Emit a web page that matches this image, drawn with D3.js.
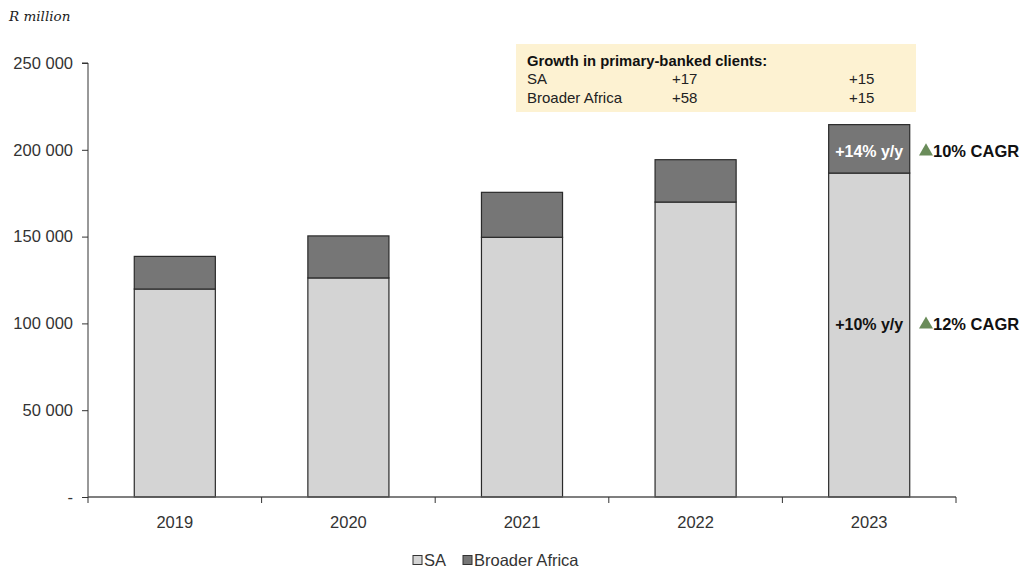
<!DOCTYPE html>
<html><head><meta charset="utf-8">
<script src="https://cdn.jsdelivr.net/npm/d3@7/dist/d3.min.js"></script>
<style>
body{margin:0;background:#fff;}
text{font-family:"Liberation Sans",Arial,Helvetica,sans-serif;}
</style></head>
<body><svg id="c" width="1024" height="568"></svg>
<script>
const years = ["2019","2020","2021","2022","2023"];
const saValues = [119800, 126200, 149600, 169900, 186600];
const africaValues = [18800, 24200, 25900, 24400, 27900];
const yTicks = [0, 50000, 100000, 150000, 200000, 250000];
const seriesNames = ["SA", "Broader Africa"];
const growthRows = [["SA","+17","+15"],["Broader Africa","+58","+15"]];
const barLabels = [{series:"SA", text:"+10% y/y", cagr:"12% CAGR"},{series:"Broader Africa", text:"+14% y/y", cagr:"10% CAGR"}];

const svg = d3.select("#c");
const x0 = 88, x1 = 956, yb = 497, yt = 63;
const x = d3.scaleBand().domain(years).range([x0, x1]).paddingInner(0.533).paddingOuter(0.2665);
const xb = d3.scaleBand().domain(years).range([x0, x1]);
const y = d3.scaleLinear().domain([0, 250000]).range([yb, yt]);
const colors = {"SA":"#d4d4d4","Broader Africa":"#767676"};

// y-axis
const ya = svg.append("g").attr("transform",`translate(${x0},0)`)
  .call(d3.axisLeft(y).tickValues(yTicks).tickSize(6).tickPadding(9)
    .tickFormat(d => d===0 ? "-" : d3.format(",")(d).replace(/,/g," ")));
ya.select(".domain").attr("stroke","#333").attr("d",`M-6,${yt}H0V${yb}`);
ya.selectAll(".tick line").attr("stroke","#333");
ya.selectAll("text").attr("fill","#333").style("font-size","16.5px")
  .style("font-family","'Liberation Sans',Arial,sans-serif");

svg.append("text").attr("x",9).attr("y",21).text("R million")
  .style("font-family","'DejaVu Serif','Liberation Serif',serif").style("font-style","italic")
  .style("font-size","13.5px").attr("fill","#222");

// bars
const data = years.map((yr,i)=>({year:yr, SA:saValues[i], "Broader Africa":africaValues[i]}));
const stacked = d3.stack().keys(seriesNames)(data);
svg.append("g").selectAll("g").data(stacked).join("g")
  .attr("fill", d=>colors[d.key])
  .selectAll("rect").data(d=>d).join("rect")
  .attr("x", d=>x(d.data.year)).attr("width", x.bandwidth())
  .attr("y", d=>y(d[1])).attr("height", d=>y(d[0])-y(d[1]))
  .attr("stroke","#2a2a2a").attr("stroke-width",1.2);

// x-axis
const xa = svg.append("g").attr("transform",`translate(0,${yb})`);
xa.append("line").attr("x1",x0).attr("x2",x1).attr("stroke","#555").attr("stroke-width",1.5);
xa.selectAll("line.t").data([...years.map(d=>xb(d)), x1]).join("line").attr("class","t")
  .attr("x1",d=>d).attr("x2",d=>d).attr("y1",0).attr("y2",6).attr("stroke","#333");
xa.selectAll("text").data(years).join("text")
  .attr("x",d=>xb(d)+xb.bandwidth()/2).attr("y",31).attr("text-anchor","middle")
  .attr("fill","#333").style("font-size","16.5px").text(d=>d);

// labels on last bar
const lx = x(years[years.length-1]);
barLabels.forEach((b,i)=>{
  const seg = stacked.find(s=>s.key===b.series);
  const d = seg[seg.length-1];
  const yy = b.series==="SA" ? y(d[0]) - (yb - 330) : (y(d[1])+y(d[0]))/2 + 8;
  svg.append("text").attr("x", lx + x.bandwidth()/2).attr("y", yy).attr("text-anchor","middle")
    .attr("fill", b.series==="SA" ? "#111" : "#fff").style("font-size","16px").style("font-weight","bold").text(b.text);
  svg.append("path").attr("d", d3.symbol(d3.symbolTriangle, 85)())
    .attr("transform",`translate(926,${yy-5.5})`).attr("fill","#6a8c5a");
  svg.append("text").attr("x",933).attr("y",yy).attr("fill","#111")
    .style("font-size","16.5px").style("font-weight","bold").text(b.cagr);
});

// growth box
const g = svg.append("g");
g.append("rect").attr("x",516).attr("y",44).attr("width",400).attr("height",68).attr("fill","#fdf2d2");
g.append("text").attr("x",527).attr("y",66).style("font-size","14.8px").style("font-weight","bold").attr("fill","#111")
  .text("Growth in primary-banked clients:");
growthRows.forEach((r,i)=>{
  const ty = 84 + i*19;
  [527, 672, 849].forEach((tx,j)=>{
    g.append("text").attr("x",tx).attr("y",ty).style("font-size","15px").attr("fill","#222").text(r[j]);
  });
});

// legend
const lg = svg.append("g");
seriesNames.forEach((s,i)=>{
  const lxs = [413, 463][i];
  lg.append("rect").attr("x",lxs).attr("y",555.5).attr("width",9).attr("height",9)
    .attr("fill",colors[s]).attr("stroke","#333").attr("stroke-width",1);
  lg.append("text").attr("x",lxs+11).attr("y",566).style("font-size","16.5px").attr("fill","#333").text(s);
});
</script></body></html>
